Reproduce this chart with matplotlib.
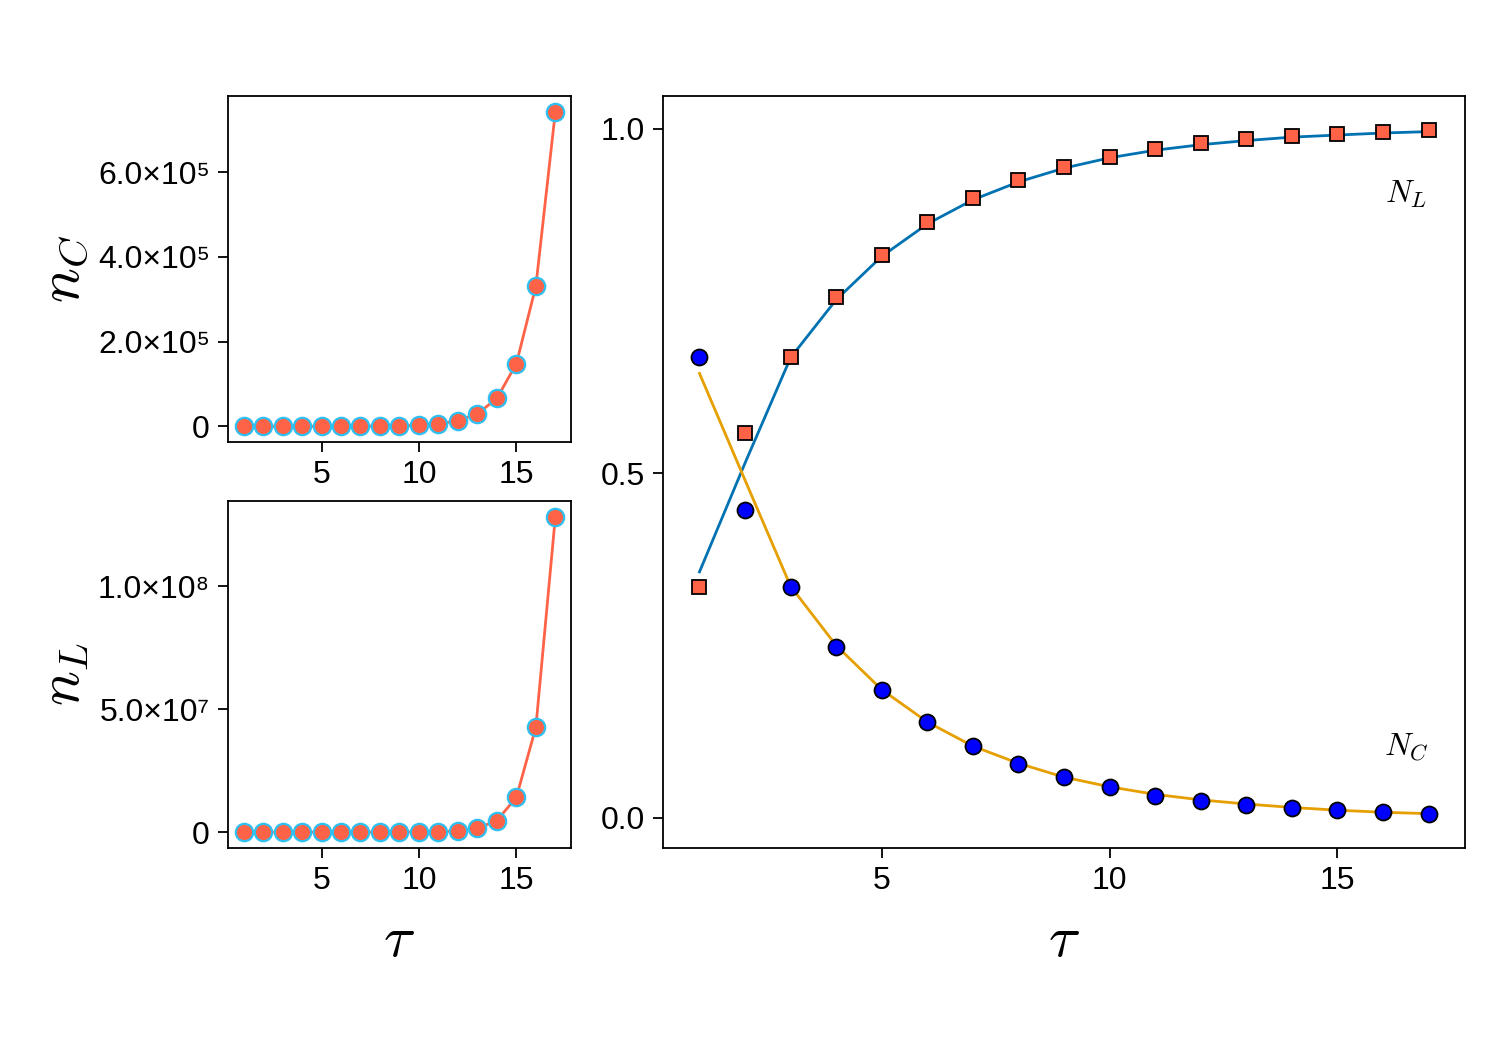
import numpy as np
import matplotlib.pyplot as plt

tau = np.arange(1, 18)

# counts (left panels)
n_C = [2, 4, 9, 21, 47, 105, 235, 530, 1180, 2650, 5900, 13200, 29500,
       66000, 148000, 331000, 743000]
n_L = [3, 9, 27, 81, 243, 729, 2190, 6560, 19700, 59000, 177000, 531000,
       1590000, 4700000, 14200000, 42700000, 128300000]

# fractions (right panel)
N_L = [0.335, 0.558, 0.669, 0.756, 0.8175, 0.8646, 0.8998, 0.926, 0.945,
       0.9595, 0.9707, 0.979, 0.9851, 0.9895, 0.9932, 0.9957, 0.9981]
N_C = [0.669, 0.4465, 0.335, 0.2486, 0.186, 0.139, 0.1045, 0.078, 0.0588,
       0.0443, 0.0323, 0.025, 0.0188, 0.014, 0.0106, 0.0082, 0.0058]
fit_L = [0.357, 0.515, 0.668, 0.752, 0.815, 0.862, 0.897, 0.923, 0.943,
         0.958, 0.969, 0.977, 0.983, 0.988, 0.991, 0.994, 0.996]
fit_C = [0.645, 0.49, 0.336, 0.25, 0.186, 0.139, 0.104, 0.079, 0.059,
         0.045, 0.034, 0.026, 0.020, 0.015, 0.011, 0.008, 0.006]

nC_ticks = [0, 2e5, 4e5, 6e5]
nC_labels = ['0', '2.0×10⁵', '4.0×10⁵', '6.0×10⁵']
nL_ticks = [0, 5e7, 1e8]
nL_labels = ['0', '5.0×10⁷', '1.0×10⁸']
N_ticks = [0, 0.5, 1.0]
N_labels = ['0.0', '0.5', '1.0']

plt.rcParams['font.family'] = ['Liberation Sans', 'DejaVu Sans']
plt.rcParams['mathtext.fontset'] = 'cm'

tomato = '#FF6347'

fig = plt.figure(figsize=(14.95, 10.56), dpi=100)
ax1 = fig.add_axes([0.1525, 0.5814, 0.2294, 0.3277])
ax2 = fig.add_axes([0.1525, 0.197, 0.2294, 0.3286])
ax3 = fig.add_axes([0.4435, 0.197, 0.5365, 0.7121])

for ax in (ax1, ax2, ax3):
    ax.tick_params(direction='out', length=7, width=1.3, labelsize=23, pad=6)
    for s in ax.spines.values():
        s.set_linewidth(1.3)
    ax.set_xticks([5, 10, 15])

ax1.plot(tau, n_C, c=tomato, lw=2, marker='o', ms=12.5, mfc=tomato,
         mec='#2ec0f0', mew=1.6)
ax1.set_yticks(nC_ticks, nC_labels)
ax1.set_ylabel('$n_C$', fontsize=42)
ax1.yaxis.set_label_coords(-0.40, 0.5)

ax2.plot(tau, n_L, c=tomato, lw=2, marker='o', ms=12.5, mfc=tomato,
         mec='#2ec0f0', mew=1.6)
ax2.set_yticks(nL_ticks, nL_labels)
ax2.set_ylabel('$n_L$', fontsize=42)
ax2.yaxis.set_label_coords(-0.40, 0.5)
ax2.set_xlabel(r'$\tau$', fontsize=42)
ax2.xaxis.set_label_coords(0.5, -0.19)

ax3.plot(tau, fit_L, c='#0072B2', lw=2)
ax3.plot(tau, fit_C, c='#E69F00', lw=2)
ax3.plot(tau, N_L, ls='none', marker='s', ms=10.5, mfc=tomato, mec='k', mew=1.3)
ax3.plot(tau, N_C, ls='none', marker='o', ms=11.5, mfc='#0000FF', mec='k', mew=1.3)
ax3.set_yticks(N_ticks, N_labels)
ax3.set_xlabel(r'$\tau$', fontsize=42)
ax3.xaxis.set_label_coords(0.5, -0.088)
ax3.text(16.5, 0.905, '$N_L$', fontsize=23, ha='center', va='center')
ax3.text(16.5, 0.103, '$N_C$', fontsize=23, ha='center', va='center')

plt.savefig('out.png')
